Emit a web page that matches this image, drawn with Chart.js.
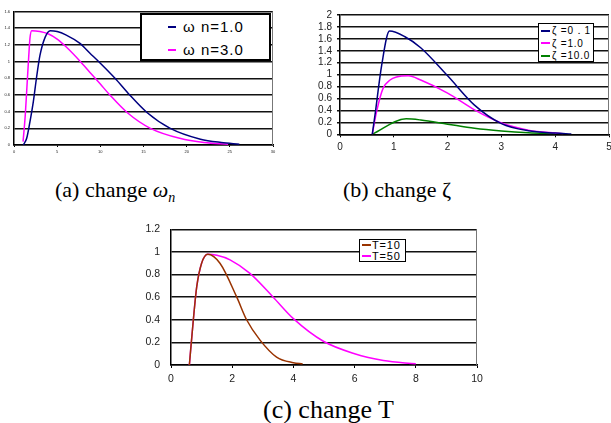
<!DOCTYPE html>
<html>
<head>
<meta charset="utf-8">
<script src="https://cdn.jsdelivr.net/npm/chart.js@4.4.1/dist/chart.umd.min.js"></script>
<style>
  body { margin: 0; background: #fff; width: 611px; height: 423px; position: relative; overflow: hidden; }
  canvas { position: absolute; }
  .legend { position: absolute; box-sizing: border-box; background: #fff; border: 2px solid #000;
            font-family: "Liberation Sans", Arial, sans-serif; color: #000; }
  .legend div { display: flex; align-items: center; white-space: nowrap; }
  .legend .sw { display: inline-block; height: 2px; }
  .cap { position: absolute; font-family: "Liberation Serif", "Times New Roman", serif; color: #000;
         white-space: nowrap; line-height: 1; }
</style>
</head>
<body>
<canvas id="chartA" width="280" height="160" style="left:0;top:0"></canvas>
<canvas id="chartB" width="321" height="160" style="left:290px;top:0"></canvas>
<canvas id="chartC" width="370" height="180" style="left:120px;top:215px"></canvas>

<div id="legA" class="legend" style="left:140px;top:13px;width:131px;height:48px;font-size:15px;letter-spacing:1px;padding:0 0 0 26px"></div>
<div id="legB" class="legend" style="left:538px;top:23px;width:56px;height:39px;font-size:10px;letter-spacing:0.8px;padding:1px 0 0 2px;border-width:1px"></div>
<div id="legC" class="legend" style="left:359px;top:239px;width:47px;height:23px;font-size:11px;letter-spacing:0.8px;padding:0 0 0 2px;border-width:1px"></div>

<div class="cap" style="left:55px;top:179px;font-size:22px">(a) change <i>ω</i><sub style="font-size:14px;vertical-align:-5px"><i>n</i></sub></div>
<div class="cap" style="left:343px;top:179px;font-size:22px">(b) change ζ</div>
<div class="cap" style="left:263px;top:397px;font-size:26px">(c) change T</div>

<script>
// (a) change omega_n
const aRangeX = [0, 30, 5];
const aRangeY = [0, 1.6, 0.2];
const aLabels = ["ω n=1.0", "ω n=3.0"];
const aColors = ["#000080", "#ff00ff"];
const aW1x = [1.08, 1.47, 1.85, 2.24, 2.6, 3.0, 3.6, 4.2, 5, 6, 7.6, 8.8, 10, 11.7, 13.4, 15.4, 18.1, 21.6, 24, 26.1];
const aW1y = [0, 0.08, 0.28, 0.52, 0.8, 1.07, 1.29, 1.37, 1.36, 1.32, 1.22, 1.1, 0.98, 0.8, 0.6, 0.39, 0.2, 0.07, 0.03, 0.01];
const aW3x = [1.05, 1.3, 1.5, 1.7, 1.85, 2.05, 3, 4, 5, 6, 7.6, 8.8, 10, 11.1, 13.1, 15.8, 19.2, 22, 24.8];
const aW3y = [0.04, 0.35, 0.7, 1.05, 1.28, 1.37, 1.36, 1.33, 1.27, 1.18, 1.01, 0.87, 0.73, 0.6, 0.39, 0.2, 0.08, 0.03, 0.01];

// (b) change zeta
const bRangeX = [0, 5, 1];
const bRangeY = [0, 2, 0.2];
const bLabels = ["ζ =0．1", "ζ =1.0", "ζ =10.0"];
const bColors = ["#000080", "#ff00ff", "#008000"];
const bZ01x = [0.6, 0.65, 0.775, 0.92, 1.2, 1.5, 2, 2.5, 3, 3.5, 4, 4.3];
const bZ01y = [0, 0.32, 1.16, 1.73, 1.64, 1.45, 0.98, 0.49, 0.18, 0.06, 0.02, 0.005];
const bZ1x = [0.6, 0.68, 0.8, 0.93, 1.05, 1.27, 1.5, 2, 2.5, 3, 3.5, 4, 4.15];
const bZ1y = [0, 0.38, 0.77, 0.91, 0.96, 0.98, 0.91, 0.69, 0.41, 0.19, 0.07, 0.02, 0.01];
const bZ10x = [0.6, 1.23, 1.5, 2, 2.5, 3, 3.5, 4];
const bZ10y = [0, 0.26, 0.24, 0.17, 0.1, 0.055, 0.025, 0.01];

// (c) change T
const cRangeX = [0, 10, 2];
const cRangeY = [0, 1.2, 0.2];
const cLabels = ["T=10", "T=50"];
const cColors = ["#993300", "#ff00ff"];
const cT10x = [0.6, 0.73, 0.84, 1.0, 1.2, 1.6, 2.15, 2.47, 2.91, 3.45, 4.0, 4.3];
const cT10y = [0, 0.4, 0.69, 0.9, 0.98, 0.9, 0.6, 0.4, 0.22, 0.07, 0.02, 0.01];
const cT50x = [0.6, 0.73, 0.84, 1.0, 1.2, 1.5, 1.93, 2.58, 3.34, 4.0, 4.98, 6.0, 6.94, 8.0];
const cT50y = [0, 0.4, 0.69, 0.9, 0.98, 0.97, 0.93, 0.81, 0.6, 0.41, 0.21, 0.1, 0.04, 0.01];

const pts = (xs, ys) => xs.map((x, i) => ({ x: x, y: ys[i] }));
const fmt = (v) => String(Math.round(v * 10) / 10);

const frame = {
  id: "frame",
  beforeDatasetsDraw(chart) {
    const a = chart.chartArea;
    const ctx = chart.ctx;
    const r = Math.round(a.right) - 0.5;
    ctx.save();
    ctx.strokeStyle = "#777";
    ctx.lineWidth = 1;
    ctx.beginPath();
    ctx.moveTo(r, a.top);
    ctx.lineTo(r, a.bottom);
    ctx.stroke();
    ctx.restore();
  }
};

const makeChart = (id, lay, rx, ry, datasets) => {
  const font = { family: "'Liberation Sans', Arial, sans-serif", size: lay.font };
  return new Chart(document.getElementById(id), {
    type: "line",
    data: { datasets: datasets },
    plugins: [frame],
    options: {
      responsive: false,
      animation: false,
      events: [],
      layout: { padding: { left: 0, top: lay.top, right: lay.right, bottom: 0 } },
      plugins: { legend: { display: false }, tooltip: { enabled: false } },
      elements: { point: { radius: 0 }, line: { borderWidth: 1.5, cubicInterpolationMode: "monotone" } },
      scales: {
        x: {
          type: "linear", min: rx[0], max: rx[1],
          ticks: { stepSize: rx[2], font: font, color: "#222", padding: lay.xPad, maxRotation: 0, autoSkip: false, callback: fmt },
          grid: { drawOnChartArea: false, tickLength: lay.xTick, color: "#000" },
          border: { color: "#000", width: 1.5 },
          afterFit: (s) => { s.height = lay.xH; s.paddingLeft = 0; s.paddingRight = 0; }
        },
        y: {
          min: ry[0], max: ry[1],
          ticks: { stepSize: ry[2], font: font, color: "#222", padding: lay.yPad, autoSkip: false, callback: fmt },
          grid: { color: "#111", lineWidth: 1.5, tickLength: lay.yTick, drawTicks: lay.yTick > 0 },
          border: { color: "#000", width: 1.5 },
          afterFit: (s) => { s.width = lay.yW; s.paddingTop = 0; s.paddingBottom = 0; }
        }
      }
    }
  });
};

const ds = (label, color, data) => ({ label: label, data: data, borderColor: color, backgroundColor: color, fill: false });

makeChart("chartA", { top: 11.5, right: 7, yW: 14, xH: 15, font: 4, xPad: 2, xTick: 2, yPad: 4, yTick: 0 }, aRangeX, aRangeY, [
  ds(aLabels[0], aColors[0], pts(aW1x, aW1y)),
  ds(aLabels[1], aColors[1], pts(aW3x, aW3y))
]);
makeChart("chartB", { top: 15, right: 2, yW: 50, xH: 25.7, font: 10, xPad: 4, xTick: 3, yPad: 5, yTick: 3 }, bRangeX, bRangeY, [
  ds(bLabels[0], bColors[0], pts(bZ01x, bZ01y)),
  ds(bLabels[1], bColors[1], pts(bZ1x, bZ1y)),
  ds(bLabels[2], bColors[2], pts(bZ10x, bZ10y))
]);
makeChart("chartC", { top: 14.3, right: 13, yW: 51, xH: 30, font: 10.5, xPad: 5, xTick: 3, yPad: 11, yTick: 0 }, cRangeX, cRangeY, [
  ds(cLabels[0], cColors[0], pts(cT10x, cT10y)),
  ds(cLabels[1], cColors[1], pts(cT50x, cT50y))
]);

// html legends built from the same label/colour arrays
const fillLegend = (id, labels, colors, rowH, swW, gap) => {
  const box = document.getElementById(id);
  labels.forEach((t, i) => {
    const row = document.createElement("div");
    row.style.height = rowH + "px";
    const sw = document.createElement("span");
    sw.className = "sw";
    sw.style.width = swW + "px";
    sw.style.marginRight = gap + "px";
    sw.style.background = colors[i];
    row.appendChild(sw);
    row.appendChild(document.createTextNode(t));
    box.appendChild(row);
  });
};
fillLegend("legA", aLabels, aColors, 23, 8, 7);
fillLegend("legB", bLabels, bColors, 12.3, 9, 2);
fillLegend("legC", cLabels, cColors, 10.5, 9, 1);
</script>
</body>
</html>
